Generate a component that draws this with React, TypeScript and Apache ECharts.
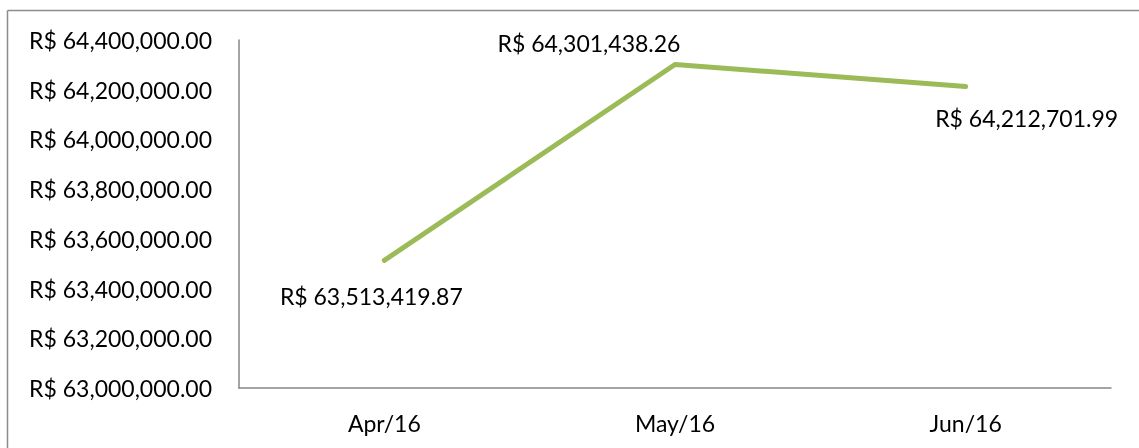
import React, { useEffect, useRef } from "react";
import * as echarts from "echarts";

const categories = ["Apr/16", "May/16", "Jun/16"];
const values = [63513419.87, 64301438.26, 64212701.99];
const labelOffsets: [number, number][] = [[-13, 36], [-86, -21], [61, 31]];

const fmt = (v: number) =>
  "R$ " + v.toLocaleString("en-US", { minimumFractionDigits: 2, maximumFractionDigits: 2 });

const FONT = "Lato";
const FS = 23;
const GREEN = "#9BBB59";

export default function App() {
  const ref = useRef<HTMLDivElement>(null);
  useEffect(() => {
    const chart = echarts.init(ref.current!, null, { renderer: "svg" });
    chart.setOption({
      animation: false,
      textStyle: { fontFamily: FONT },
      grid: { left: 239, right: 28, top: 40, bottom: 60 },
      graphic: [
        { type: "line", shape: { x1: 7.5, y1: 10.5, x2: 1139, y2: 10.5 }, style: { stroke: "#8c8c8c", lineWidth: 1.5 } },
        { type: "line", shape: { x1: 7.5, y1: 10.5, x2: 7.5, y2: 448 }, style: { stroke: "#8c8c8c", lineWidth: 1.5 } },
      ],
      xAxis: {
        type: "category",
        data: categories,
        boundaryGap: true,
        axisLine: { lineStyle: { color: "#868686", width: 1.5 } },
        axisTick: { show: false },
        axisLabel: { color: "#000", fontSize: FS, fontFamily: FONT, margin: 23 },
      },
      yAxis: {
        type: "value",
        min: 63000000,
        max: 64400000,
        interval: 200000,
        axisLine: { show: true, lineStyle: { color: "#868686", width: 1.5 } },
        axisTick: { show: false },
        splitLine: { show: false },
        axisLabel: { color: "#000", fontSize: FS, fontFamily: FONT, margin: 27, formatter: (v: number) => fmt(v) },
      },
      series: [
        {
          type: "line",
          data: values.map((v, i) => ({
            value: v,
            label: { offset: labelOffsets[i] },
          })),
          symbol: "circle",
          symbolSize: 1,
          itemStyle: { color: GREEN },
          lineStyle: { color: GREEN, width: 5, cap: "round", join: "round" },
          label: {
            show: true,
            position: "inside",
            color: "#000",
            fontSize: FS,
            fontFamily: FONT,
            formatter: (p: any) => fmt(p.value),
          },
        },
      ],
    });
    return () => chart.dispose();
  }, []);
  return <div ref={ref} style={{ position: "fixed", left: 0, top: 0, width: 1139, height: 448 }} />;
}
